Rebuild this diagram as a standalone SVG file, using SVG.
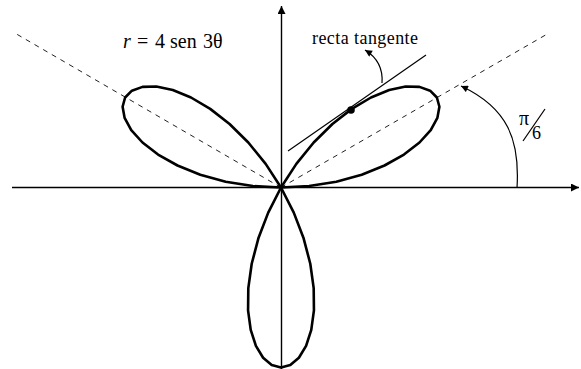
<svg xmlns="http://www.w3.org/2000/svg" xmlns:xlink="http://www.w3.org/1999/xlink" width="581" height="369" viewBox="0 0 581 369">
  <style>
    .axis { stroke: #000; stroke-width: 1.4; fill: none; }
    .dash { stroke: #222; stroke-width: 1; stroke-dasharray: 5 5; fill: none; }
    .curve { stroke: #000; stroke-width: 2.6; fill: none; stroke-linejoin: round; }
    .thin { stroke: #000; stroke-width: 1.2; fill: none; }
    .lbl { fill: #000; }
  </style>
  <defs>
    <marker id="axarr" viewBox="0 0 10 10" refX="10" refY="5" markerUnits="userSpaceOnUse" markerWidth="9" markerHeight="8" orient="auto">
      <path d="M0,0 L10,5 L0,10 Z" fill="#000"/>
    </marker>
    <marker id="smarr" viewBox="0 0 10 10" refX="10" refY="5" markerUnits="userSpaceOnUse" markerWidth="8" markerHeight="7" orient="auto">
      <path d="M0,0 L10,5 L0,10 Z" fill="#000"/>
    </marker>
    <path id="petal" d="M0,0 L25.09,12.78 L50.81,22.62 L76.29,29.29 L100.62,32.69 L122.94,32.94 L142.44,30.28 L158.41,25.09 L170.25,17.89 L177.54,9.30 L180,0 L177.54,-9.30 L170.25,-17.89 L158.41,-25.09 L142.44,-30.28 L122.94,-32.94 L100.62,-32.69 L76.29,-29.29 L50.81,-22.62 L25.09,-12.78 Z"/>
  </defs>
  <rect width="581" height="369" fill="#fff"/>

  <g id="dashed-rays">
    <line class="dash" x1="281" y1="187.5" x2="549" y2="33"/>
    <line class="dash" x1="281" y1="187.5" x2="13" y2="32"/>
  </g>

  <g id="axes">
    <line class="axis" x1="12" y1="187.5" x2="579" y2="187.5" marker-end="url(#axarr)"/>
    <line class="axis" x1="281.5" y1="369" x2="281.5" y2="6" marker-end="url(#axarr)"/>
  </g>

  <g id="rose">
    <use xlink:href="#petal" class="curve" transform="translate(281,187.5) rotate(-30)"/>
    <use xlink:href="#petal" class="curve" transform="translate(281,187.5) rotate(-150)"/>
    <use xlink:href="#petal" class="curve" transform="translate(281,187.5) rotate(90)"/>
  </g>

  <g id="tangent">
    <line class="thin" x1="288" y1="151" x2="426" y2="55"/>
    <circle cx="351" cy="110" r="3.8" fill="#000"/>
  </g>

  <g id="connectors">
    <path class="thin" d="M382,83 C383,70 378,58 365,50" marker-end="url(#smarr)"/>
    <path class="thin" d="M517,188 C520,140 508,108 461,86" marker-end="url(#smarr)"/>
  </g>

  <g id="labels" font-family="'Liberation Serif', 'DejaVu Serif', serif">
    <text class="lbl" y="48" font-size="20"><tspan x="123" font-style="italic">r</tspan><tspan x="137">=</tspan><tspan x="155">4</tspan><tspan x="170">sen</tspan><tspan x="203">3θ</tspan></text>
    <text class="lbl" x="312" y="44" font-size="18" textLength="106" lengthAdjust="spacing">recta tangente</text>
    <text class="lbl" x="519" y="125" font-size="20">π</text>
    <line class="thin" x1="523" y1="141" x2="545" y2="109"/>
    <text class="lbl" x="532" y="139" font-size="18">6</text>
  </g>
</svg>
